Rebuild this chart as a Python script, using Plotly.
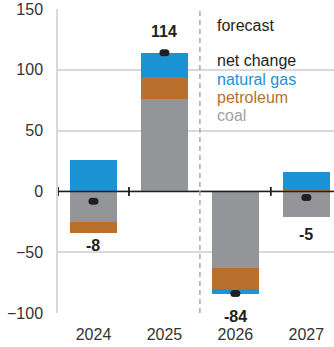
import plotly.graph_objects as go

years = ["2024", "2025", "2026", "2027"]
coal = [-25, 76, -63, -21]
petroleum = [-9, 18, -17, 1.5]
natural_gas = [26, 20, -4, 14.5]
net_labels = ["-8", "114", "-84", "-5"]
y_ticks = [-100, -50, 0, 50, 100, 150]

net = [c + p + g for c, p, g in zip(coal, petroleum, natural_gas)]
x = list(range(len(years)))

C_GAS = "#1b93d4"
C_PET = "#b8702c"
C_COAL = "#939598"
FONT = "Liberation Sans, Arial, sans-serif"

fig = go.Figure()
for vals, col, name in [(coal, C_COAL, "coal"), (petroleum, C_PET, "petroleum"), (natural_gas, C_GAS, "natural gas")]:
    fig.add_trace(go.Bar(x=x, y=vals, name=name, marker=dict(color=col, line=dict(width=0)), width=0.66))

# net change pill markers (two overlapping circles)
dx = 0.021
for off in (-dx, dx):
    fig.add_trace(go.Scatter(x=[xi + off for xi in x], y=net, mode="markers",
                             marker=dict(symbol="circle", size=7, color="#231f20"),
                             showlegend=False, hoverinfo="skip"))

# net labels
shifts = [-13, 21, -23, -18]
for xi, n, lab, s in zip(x, net, net_labels, shifts):
    pos = sum(v for v in (coal[xi], petroleum[xi], natural_gas[xi]) if v > 0)
    neg = sum(v for v in (coal[xi], petroleum[xi], natural_gas[xi]) if v < 0)
    base = pos if n > 0 else neg
    fig.add_annotation(x=xi, y=base, text=f"<b>{lab}</b>", showarrow=False, yshift=s,
                       font=dict(size=16, color="#231f20", family=FONT))

shapes = []
# zero line
shapes.append(dict(type="line", xref="paper", yref="y", x0=0, x1=1, y0=0, y1=0,
                   line=dict(color="#231f20", width=1.5), layer="above"))
# boundary ticks on zero line
for b in (-0.5, 0.5, 2.5):
    shapes.append(dict(type="line", xref="x", yref="y", ysizemode="pixel", yanchor=0,
                       x0=b, x1=b, y0=-4.5, y1=4.5, line=dict(color="#231f20", width=1.8), layer="above"))
# forecast dashed divider
shapes.append(dict(type="line", xref="x", yref="y domain", x0=1.5, x1=1.5, y0=0, y1=1,
                   line=dict(color="#aaaaaa", width=1.5, dash="5px,4px"), layer="above"))
fig.update_layout(shapes=shapes)

# legend-like text
legend_items = [("forecast", "#231f20", 25), ("net change", "#231f20", 60),
                ("natural gas", C_GAS, 79), ("petroleum", C_PET, 97), ("coal", "#a3a3a3", 115)]
for txt, col, ypx in legend_items:
    fig.add_annotation(xref="paper", yref="paper", x=(215 - 58) / (334 - 58),
                       y=1 - (ypx - 8.5) / (313.3 - 8.5), text=txt, showarrow=False,
                       xanchor="left", yanchor="middle", font=dict(size=16, color=col, family=FONT))

fig.update_layout(
    width=334, height=347,
    margin=dict(l=58, r=0, t=8.5, b=33.7),
    barmode="relative",
    bargap=0,
    showlegend=False,
    plot_bgcolor="white", paper_bgcolor="white",
    font=dict(family=FONT, size=16, color="#333333"),
    xaxis=dict(range=[-0.5, 3.39], tickvals=x, ticktext=years, showgrid=False, zeroline=False,
               showline=False, ticks="", fixedrange=True, automargin=False, ticklabelstandoff=10),
    yaxis=dict(range=[-100, 150], tickvals=y_ticks, showgrid=True, gridcolor="#d9d9d9", gridwidth=1.5,
               zeroline=False, showline=True, linecolor="#d9d9d9", linewidth=1.5, ticks="",
               automargin=False, ticklabelstandoff=10, fixedrange=True),
)

fig.write_html("out.html", config={"displayModeBar": False},
               post_script="document.body.style.margin='0';document.body.style.overflow='hidden';")
